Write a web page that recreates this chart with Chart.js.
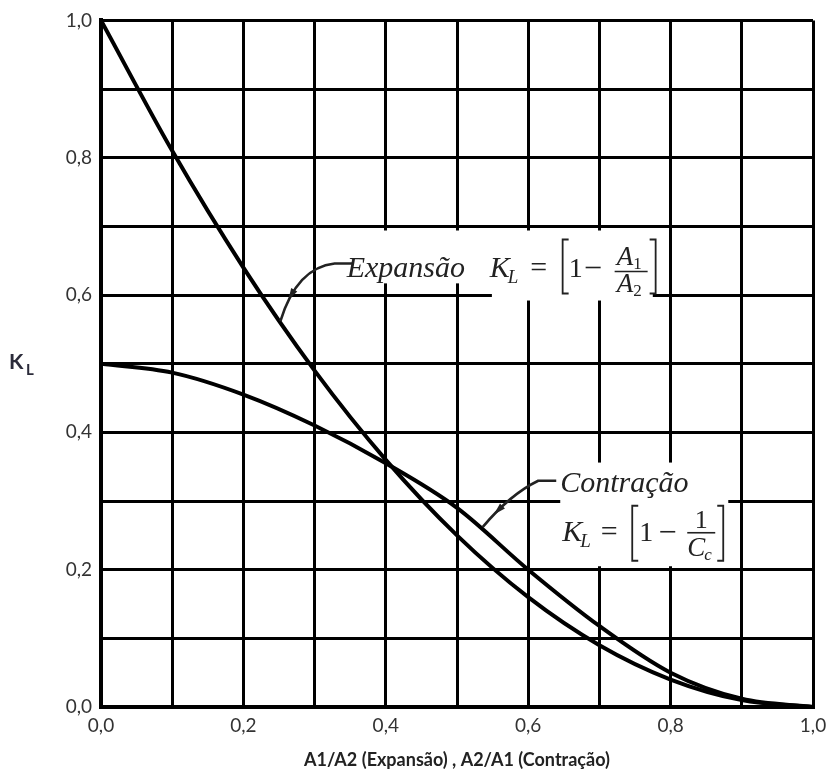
<!DOCTYPE html>
<html>
<head>
<meta charset="utf-8">
<script src="https://cdn.jsdelivr.net/npm/chart.js@4.4.1/dist/chart.umd.min.js"></script>
<style>
  html, body { margin: 0; padding: 0; background: #fff; }
</style>
</head>
<body>
<canvas id="klChart" width="834" height="774"></canvas>
<script>
// area ratio on the x axis (A1/A2 for expansion, A2/A1 for contraction)
const ratios = [0, 0.1, 0.2, 0.3, 0.4, 0.5, 0.6, 0.7, 0.8, 0.9, 1.0];
// loss coefficient K_L
const expansao = [1.0, 0.81, 0.64, 0.49, 0.36, 0.25, 0.16, 0.09, 0.04, 0.01, 0.0];
const contracao = [0.5, 0.487, 0.455, 0.41, 0.355, 0.29, 0.2, 0.118, 0.05, 0.012, 0.0];
// labels only on every other grid line
const tickLabels = ["0,0", "", "0,2", "", "0,4", "", "0,6", "", "0,8", "", "1,0"];

const mathFont = '"Liberation Serif", serif';
const sansFont = 'Lato, "Open Sans", sans-serif';

// annotations: white patch over the grid, text, and a curved leader
const notesPlugin = {
  id: "notes",
  afterDraw(chart) {
    const ctx = chart.ctx;
    const xs = chart.scales.x, ys = chart.scales.y;
    const P = (x, y) => [xs.getPixelForValue(x), ys.getPixelForValue(y)];

    function patch(x1, y1, x2, y2) {
      const a = P(x1, y1), b = P(x2, y2);
      ctx.fillStyle = "#fff";
      ctx.fillRect(a[0], a[1], b[0] - a[0], b[1] - a[1]);
    }
    function txt(s, x, y, size, italic) {
      ctx.font = (italic ? "italic " : "") + size + "px " + mathFont;
      ctx.fillText(s, x, y);
      return ctx.measureText(s).width;
    }
    function bracket(x, y1, y2, dir) {
      ctx.beginPath();
      ctx.moveTo(x + 6 * dir, y1);
      ctx.lineTo(x, y1);
      ctx.lineTo(x, y2);
      ctx.lineTo(x + 6 * dir, y2);
      ctx.lineWidth = 1.8;
      ctx.stroke();
    }
    function hline(x1, x2, y) {
      ctx.beginPath();
      ctx.moveTo(x1, y);
      ctx.lineTo(x2, y);
      ctx.lineWidth = 1.6;
      ctx.stroke();
    }
    function leader(start, ctrl, end, t) {
      ctx.beginPath();
      ctx.moveTo(start[0] + 4, start[1]);
      ctx.lineTo(start[0] - 14, start[1]);
      ctx.quadraticCurveTo(ctrl[0], ctrl[1], end[0], end[1]);
      ctx.lineWidth = 2.6;
      ctx.stroke();
      // small arrow barb along the leader
      const sx = start[0] - 14;
      const qx = (1 - t) * (1 - t) * sx + 2 * (1 - t) * t * ctrl[0] + t * t * end[0];
      const qy = (1 - t) * (1 - t) * start[1] + 2 * (1 - t) * t * ctrl[1] + t * t * end[1];
      const dx = 2 * (1 - t) * (ctrl[0] - sx) + 2 * t * (end[0] - ctrl[0]);
      const dy = 2 * (1 - t) * (ctrl[1] - start[1]) + 2 * t * (end[1] - ctrl[1]);
      const len = Math.hypot(dx, dy), ux = dx / len, uy = dy / len;
      ctx.beginPath();
      ctx.moveTo(qx + ux * 6, qy + uy * 6);
      ctx.lineTo(qx - ux * 6 - uy * 3.5, qy - uy * 6 + ux * 3.5);
      ctx.lineTo(qx - ux * 6 + uy * 3.5, qy - uy * 6 - ux * 3.5);
      ctx.closePath();
      ctx.fill();
    }

    ctx.save();
    patch(0.336, 0.694, 0.546, 0.617);
    patch(0.549, 0.694, 0.775, 0.592);
    patch(0.645, 0.356, 0.881, 0.205);

    ctx.fillStyle = "#222";
    ctx.strokeStyle = "#222";
    ctx.textBaseline = "alphabetic";
    ctx.textAlign = "left";

    // Expansão  K_L = [1 - A1/A2]
    const e = P(0.345, 0.627);
    txt("Expansão", e[0], e[1], 30, true);
    let w = txt("K", e[0] + 143, e[1], 30, true);
    txt("L", e[0] + 143 + w - 2, e[1] + 6, 19, true);
    ctx.textAlign = "center";
    txt("=", e[0] + 192, e[1], 30, false);
    ctx.textAlign = "left";
    bracket(e[0] + 216, e[1] - 37, e[1] + 17, 1);
    txt("1", e[0] + 222, e[1], 28, false);
    hline(e[0] + 239, e[0] + 254, e[1] - 9);
    w = txt("A", e[0] + 270, e[1] - 12, 27, true);
    txt("1", e[0] + 270 + w, e[1] - 8, 17, false);
    hline(e[0] + 268, e[0] + 301, e[1] - 5);
    w = txt("A", e[0] + 270, e[1] + 15, 27, true);
    txt("2", e[0] + 270 + w, e[1] + 19, 17, false);
    bracket(e[0] + 309, e[1] - 37, e[1] + 17, -1);
    leader([e[0] + 2, e[1] - 13], P(0.275, 0.64), P(0.252, 0.562), 0.72);

    // Contração  K_L = [1 - 1/Cc]
    const c = P(0.645, 0.3135);
    txt("Contração", c[0], c[1], 30, true);
    w = txt("K", c[0] + 2, c[1] + 49, 30, true);
    txt("L", c[0] + 2 + w - 2, c[1] + 55, 19, true);
    ctx.textAlign = "center";
    txt("=", c[0] + 49, c[1] + 49, 30, false);
    ctx.textAlign = "left";
    bracket(c[0] + 72, c[1] + 14, c[1] + 69, 1);
    txt("1", c[0] + 79, c[1] + 49, 28, false);
    hline(c[0] + 100, c[0] + 115, c[1] + 40);
    ctx.textAlign = "center";
    txt("1", c[0] + 141, c[1] + 36, 26, false);
    ctx.textAlign = "left";
    hline(c[0] + 127, c[0] + 155, c[1] + 41);
    w = txt("C", c[0] + 127, c[1] + 64, 27, true);
    txt("c", c[0] + 127 + w - 1, c[1] + 68, 17, true);
    bracket(c[0] + 163, c[1] + 14, c[1] + 69, -1);
    leader([c[0] - 8, c[1] - 11], P(0.575, 0.31), P(0.536, 0.262), 0.72);

    // y axis title K_L
    ctx.fillStyle = "#2b2b3a";
    ctx.font = "bold 21px " + sansFont;
    ctx.fillText("K", 9, ys.getPixelForValue(0.5) + 5);
    ctx.font = "bold 15px " + sansFont;
    ctx.fillText("L", 26, ys.getPixelForValue(0.5) + 11);
    ctx.restore();
  }
};

const tickFont = { family: sansFont, size: 19 };

new Chart(document.getElementById("klChart"), {
  type: "line",
  data: {
    datasets: [
      {
        label: "Expansão",
        data: ratios.map((x, i) => ({ x: x, y: expansao[i] })),
      },
      {
        label: "Contração",
        data: ratios.map((x, i) => ({ x: x, y: contracao[i] })),
      },
    ],
  },
  options: {
    responsive: false,
    animation: false,
    layout: { padding: { top: 18, right: 21, left: 0, bottom: 0 } },
    elements: {
      point: { radius: 0 },
      line: { borderWidth: 4, borderColor: "#000", cubicInterpolationMode: "monotone", fill: false },
    },
    plugins: {
      legend: { display: false },
      tooltip: { enabled: false },
    },
    scales: {
      x: {
        type: "linear",
        min: 0,
        max: 1,
        afterFit: function (s) { s.height = 67; },
        grid: { color: "#000", lineWidth: 3, drawTicks: false },
        border: { color: "#000", width: 4 },
        ticks: {
          stepSize: 0.1,
          autoSkip: false,
          maxRotation: 0,
          padding: 7,
          color: "#333",
          font: tickFont,
          callback: function (v, i) { return tickLabels[i]; },
        },
        title: {
          display: true,
          text: "A1/A2 (Expansão) , A2/A1 (Contração)",
          color: "#222",
          font: { family: sansFont, size: 18, weight: "bold" },
          padding: { top: 0, bottom: 3 },
        },
      },
      y: {
        min: 0,
        max: 1,
        afterFit: function (s) { s.width = 101; },
        grid: { color: "#000", lineWidth: 3, drawTicks: false },
        border: { color: "#000", width: 4 },
        ticks: {
          stepSize: 0.1,
          autoSkip: false,
          padding: 9,
          color: "#333",
          font: tickFont,
          callback: function (v, i) { return tickLabels[i]; },
        },
      },
    },
  },
  plugins: [notesPlugin],
});
</script>
</body>
</html>
